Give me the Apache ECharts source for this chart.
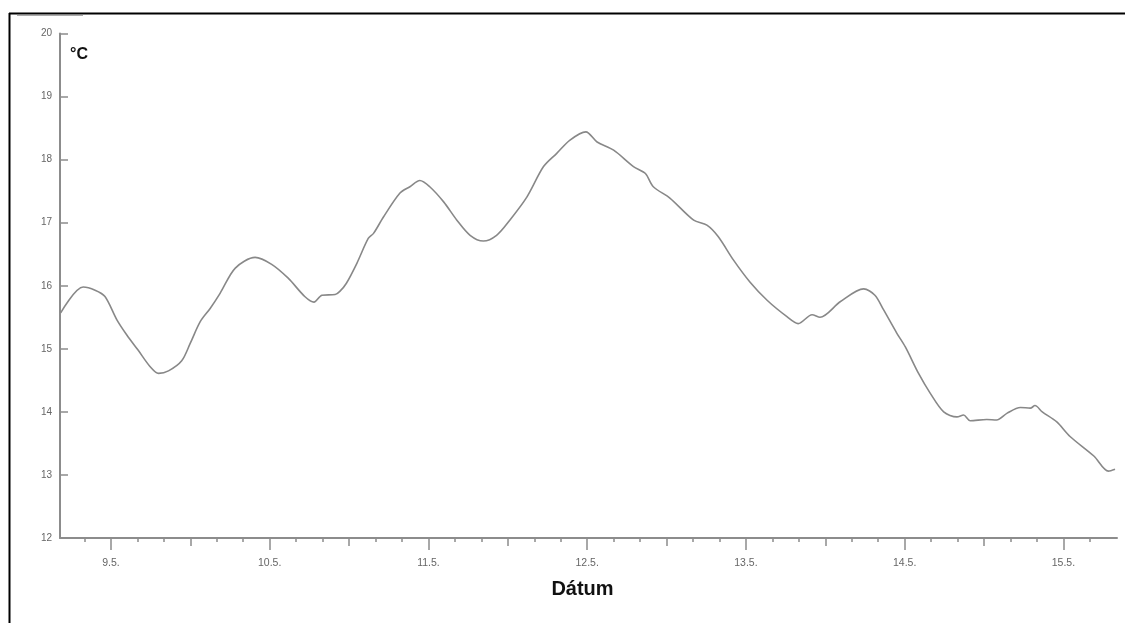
<!DOCTYPE html>
<html>
<head>
<meta charset="utf-8">
<script src="https://cdn.jsdelivr.net/npm/echarts@6/dist/echarts.min.js"></script>
<style>html,body{margin:0;padding:0;background:#fff}#c{width:1125px;height:623px}</style>
</head>
<body>
<div id="c"></div>
<script>
// hours since 9.5. 00:00
const hours = [-7.6,-4.2,-2.4,-0.9,0.9,2.4,4.1,5.9,7.2,8.7,10.7,12.0,13.5,15.0,16.5,18.8,21.8,24.3,26.8,29.3,30.7,31.9,33.9,34.6,35.6,37.2,38.9,39.7,41.2,43.7,45.2,46.7,48.2,50.3,52.3,54.3,56.3,58.3,60.3,62.9,65.4,67.4,69.4,71.8,73.5,76.0,79.0,80.8,82.0,84.5,88.1,90.1,91.8,94.1,96.6,99.2,102.2,103.9,106.0,107.2,110.3,113.8,115.5,116.8,118.8,120.1,122.1,123.9,125.9,127.9,128.9,129.9,132.4,133.9,135.5,137.5,139.0,139.7,140.8,143.0,145.0,148.6,150.8,151.8];
const temps = [15.57,15.98,15.93,15.83,15.46,15.22,14.98,14.72,14.61,14.65,14.81,15.09,15.43,15.64,15.88,16.28,16.45,16.34,16.12,15.83,15.74,15.85,15.86,15.91,16.04,16.36,16.75,16.83,17.09,17.47,17.57,17.67,17.57,17.33,17.04,16.80,16.71,16.80,17.04,17.41,17.89,18.10,18.31,18.44,18.28,18.15,17.89,17.78,17.57,17.39,17.04,16.96,16.78,16.41,16.06,15.77,15.51,15.40,15.54,15.50,15.75,15.95,15.85,15.62,15.25,15.03,14.61,14.29,14.00,13.92,13.95,13.86,13.88,13.87,13.98,14.07,14.06,14.10,14.00,13.84,13.61,13.30,13.06,13.09];
const dayTicks = [0,24,48,72,96,120,144];
const dayLabels = ['9.5.','10.5.','11.5.','12.5.','13.5.','14.5.','15.5.'];
const noonTicks = [-12,12,36,60,84,108,132];
const smallTicks = [-4,4,8,16,20,28,32,40,44,52,56,64,68,76,80,88,92,100,104,112,116,124,128,136,140,148];

const chart = echarts.init(document.getElementById('c'), null, {renderer:'canvas'});
const X_MIN = -7.7, X_MAX = 152.1;
const axisGray = '#8c8c8c';
const baseX = {
  type:'value', min:X_MIN, max:X_MAX, position:'bottom', gridIndex:0,
  splitLine:{show:false}
};
chart.setOption({
  animation:false,
  backgroundColor:'#fff',
  grid:{left:60, right:8, top:33.5, bottom:85, containLabel:false},
  xAxis:[
    Object.assign({}, baseX, {
      axisLine:{show:true, onZero:false, lineStyle:{color:axisGray, width:2}},
      axisTick:{show:true, inside:false, length:12, lineStyle:{color:axisGray, width:1.5}, customValues:dayTicks},
      axisLabel:{show:true, customValues:dayTicks, margin:20, color:'#666', fontSize:10.5, fontFamily:'Liberation Sans, Arial, sans-serif',
        formatter:function(v){const i=dayTicks.indexOf(Math.round(v)); return i>=0?dayLabels[i]:'';}},
      name:'Dátum', nameLocation:'middle', nameGap:41,
      nameTextStyle:{color:'#111', fontSize:20, fontWeight:'bold', fontFamily:'Liberation Sans, Arial, sans-serif', padding:[0,12,0,0]}
    }),
    Object.assign({}, baseX, {
      axisLine:{show:false, onZero:false},
      axisTick:{show:true, inside:false, length:8, lineStyle:{color:axisGray, width:1.5}, customValues:noonTicks},
      axisLabel:{show:false}
    }),
    Object.assign({}, baseX, {
      axisLine:{show:false, onZero:false},
      axisTick:{show:true, inside:false, length:4, lineStyle:{color:axisGray, width:1.5}, customValues:smallTicks},
      axisLabel:{show:false}
    })
  ],
  yAxis:{
    type:'value', min:12, max:20, interval:1, position:'left',
    axisLine:{show:true, onZero:false, lineStyle:{color:axisGray, width:2}},
    axisTick:{show:true, inside:true, length:8, lineStyle:{color:axisGray, width:1.5}},
    axisLabel:{color:'#666', fontSize:10, margin:8, fontFamily:'Liberation Sans, Arial, sans-serif'},
    splitLine:{show:false}
  },
  series:[{
    type:'line', xAxisIndex:0,
    data: hours.map((h,i)=>[h,temps[i]]),
    showSymbol:false, smooth:0.3,
    lineStyle:{color:'#888', width:1.6}
  }],
  graphic:[
    {type:'line', shape:{x1:9.5, y1:13, x2:9.5, y2:623}, style:{stroke:'#000', lineWidth:2}},
    {type:'line', shape:{x1:9, y1:13.5, x2:1125, y2:13.5}, style:{stroke:'#000', lineWidth:2}},
    {type:'line', shape:{x1:17, y1:15.5, x2:83, y2:15.5}, style:{stroke:'#aaa', lineWidth:1}},
    {type:'text', left:70, top:47, style:{text:'°C', fill:'#111', font:'bold 16px "Liberation Sans", Arial, sans-serif'}}
  ]
});
</script>
</body>
</html>
